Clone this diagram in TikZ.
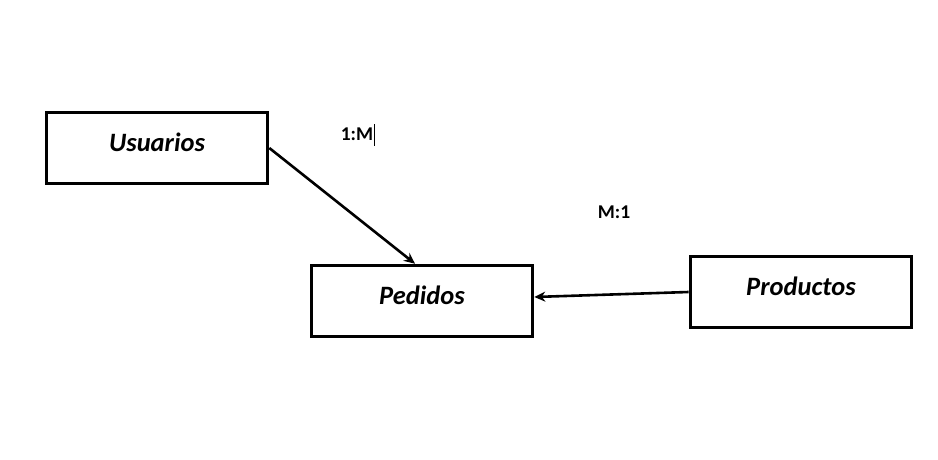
\documentclass[tikz,border=0pt]{standalone}
\usepackage{fontspec}
\setmainfont{Carlito}
\usetikzlibrary{arrows.meta,positioning}

\begin{document}
\begin{tikzpicture}[
  x=1pt,y=-1pt,
  line join=miter,
  >={Stealth[length=11pt,width=10pt]},
  entity/.style={draw=black,line width=3.6pt,minimum width=221pt,minimum height=71pt,
    text depth=0pt,font=\fontsize{26.5}{30}\selectfont\bfseries\itshape},
  rel/.style={draw=black,line width=2.6pt,->},
  card/.style={font=\fontsize{19.5}{22}\selectfont\bfseries,inner sep=0pt}
]
\useasboundingbox (0,0) rectangle (938,460);

% entities (text sits a little above centre, as in a text box)
\node[entity] (usuarios) at (157,148) {\raisebox{11pt}{Usuarios}};
\node[entity] (pedidos) at (422,301) {\raisebox{11pt}{Pedidos}};
\node[entity] (productos) at (801,292) {\raisebox{11pt}{Productos}};

% relations
\draw[rel] (usuarios.east) -- ([xshift=-7pt]pedidos.north);
\draw[rel] (productos.west) -- ([yshift=4pt]pedidos.east);

% cardinalities
\node[card] (c1) at (357,134) {1:M};
\draw[line width=0.7pt] (374,124) -- (374,146);
\node[card] (c2) at (614,212) {M:1};

\end{tikzpicture}
\end{document}
